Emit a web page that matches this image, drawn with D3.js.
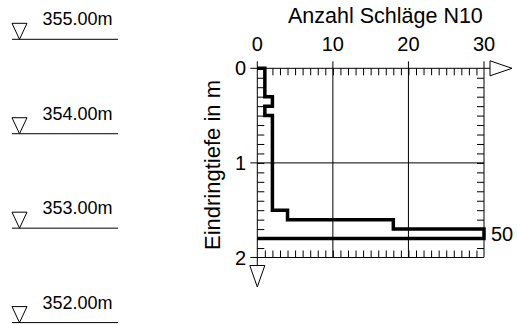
<!DOCTYPE html>
<html>
<head>
<meta charset="utf-8">
<script src="https://cdn.jsdelivr.net/npm/d3@7"></script>
<style>
  body { margin: 0; background: #fff; }
  svg text { font-family: Arial, "Liberation Sans", sans-serif; fill: #000; }
</style>
</head>
<body>
<script>
// data
var levels = [355, 354, 353, 352]            // Höhenkoten links
var levelLabels = ["355.00m", "354.00m", "353.00m", "352.00m"]
var depthFrom = [0.0, 0.1, 0.2, 0.3, 0.4, 0.5, 0.6, 0.7, 0.8, 0.9, 1.0, 1.1, 1.2, 1.3, 1.4, 1.5, 1.6, 1.7]
var blows     = [1, 1, 1, 2, 1, 2, 2, 2, 2, 2, 2, 2, 2, 2, 2, 4, 18, 50]
var xTicks = [0, 10, 20, 30]
var yTicks = [0, 1, 2]
var endDepth = 1.8
var title = "Anzahl Schläge N10"
var yTitle = "Eindringtiefe in m"

var W = 517, H = 324
var svg = d3.select('body').append('svg')
  .attr('width', W).attr('height', H)

var x = d3.scaleLinear().domain([0, 30]).range([257.3, 484])
var y = d3.scaleLinear().domain([0, 2]).range([68.3, 257.5])
var elev = d3.scaleLinear().domain([355, 352]).range([39.3, 322.6])

// left: Höhenkoten
var lv = svg.append('g')
levels.forEach(function(l, i){
  var yy = elev(l)
  lv.append('line').attr('x1', 12).attr('x2', 118).attr('y1', yy).attr('y2', yy)
    .attr('stroke', '#000').attr('stroke-width', 1)
  lv.append('path')
    .attr('d', 'M12,' + (yy - 16) + 'L27,' + (yy - 16) + 'L19.5,' + yy + 'Z')
    .attr('fill', 'none').attr('stroke', '#000').attr('stroke-width', 1)
  lv.append('text').attr('x', 42.5).attr('y', yy - 14)
    .style('font-size', '18px').text(levelLabels[i])
})

var minorX = d3.range(1, 30)
var minorY = d3.range(1, 20).map(function(d){ return d / 10 })
var tick = 7

// gridlines
var g = svg.append('g').attr('stroke', '#000').attr('stroke-width', 1)
xTicks.forEach(function(t){
  g.append('line').attr('x1', x(t)).attr('x2', x(t))
    .attr('y1', y(0) - tick).attr('y2', t == 0 ? y(2) + 8 : y(2))
})
yTicks.forEach(function(t){
  g.append('line').attr('x1', x(0) - tick).attr('x2', t == 0 ? 490 : x(30))
    .attr('y1', y(t)).attr('y2', y(t))
})

// minor ticks through d3 axes
var topAx = d3.axisTop(x).tickValues(minorX).tickSizeInner(-tick).tickSizeOuter(0).tickFormat('')
var botAx = d3.axisBottom(x).tickValues(minorX).tickSizeInner(-tick).tickSizeOuter(0).tickFormat('')
var lefAx = d3.axisLeft(y).tickValues(minorY).tickSizeInner(-tick).tickSizeOuter(0).tickFormat('')
var rigAx = d3.axisRight(y).tickValues(minorY).tickSizeInner(-tick).tickSizeOuter(0).tickFormat('')
;[[topAx, 'translate(0,' + y(0) + ')'], [botAx, 'translate(0,' + y(2) + ')'],
  [lefAx, 'translate(' + x(0) + ',0)'], [rigAx, 'translate(' + x(30) + ',0)']].forEach(function(a){
  var ag = svg.append('g').attr('transform', a[1]).call(a[0])
  ag.select('.domain').remove()
  ag.selectAll('line').attr('stroke', '#000').attr('stroke-width', 1)
})

// arrows
svg.append('path')
  .attr('d', 'M490,' + (y(0) - 7.5) + 'L490,' + (y(0) + 7.5) + 'L512,' + y(0) + 'Z')
  .attr('fill', '#fff').attr('stroke', '#000').attr('stroke-width', 1)
svg.append('path')
  .attr('d', 'M' + (x(0) - 7.5) + ',265.5L' + (x(0) + 7.5) + ',265.5L' + x(0) + ',287Z')
  .attr('fill', '#fff').attr('stroke', '#000').attr('stroke-width', 1)

// labels
svg.selectAll('.xl').data(xTicks).enter().append('text')
  .attr('x', function(d){ return x(d) }).attr('y', 50.5)
  .attr('text-anchor', 'middle').style('font-size', '20px')
  .text(function(d){ return d })
svg.selectAll('.yl').data(yTicks).enter().append('text')
  .attr('x', 246).attr('y', function(d){ return y(d) })
  .attr('dy', '0.35em')
  .attr('text-anchor', 'end').style('font-size', '20px')
  .text(function(d){ return d })
svg.append('text').attr('x', 288).attr('y', 23)
  .style('font-size', '21.5px').text(title)
svg.append('text')
  .attr('transform', 'translate(220,165) rotate(-90)')
  .attr('text-anchor', 'middle').style('font-size', '22px').text(yTitle)

// step line of blow counts (capped at 30)
var pts = [[0, 0]]
depthFrom.forEach(function(d, i){
  var n = Math.min(blows[i], 30)
  pts.push([n, d])
  pts.push([n, i < depthFrom.length - 1 ? depthFrom[i + 1] : endDepth])
})
pts.push([0, endDepth])
var line = d3.line().x(function(p){ return x(p[0]) }).y(function(p){ return y(p[1]) })
svg.append('path').attr('d', line(pts))
  .attr('fill', 'none').attr('stroke', '#000').attr('stroke-width', 3.5)
  .attr('stroke-linejoin', 'miter')

// value beyond scale
var last = blows.length - 1
svg.append('text').attr('x', 491)
  .attr('y', (y(depthFrom[last]) + y(endDepth)) / 2).attr('dy', '0.35em')
  .style('font-size', '20px').text(blows[last])
</script>
</body>
</html>
